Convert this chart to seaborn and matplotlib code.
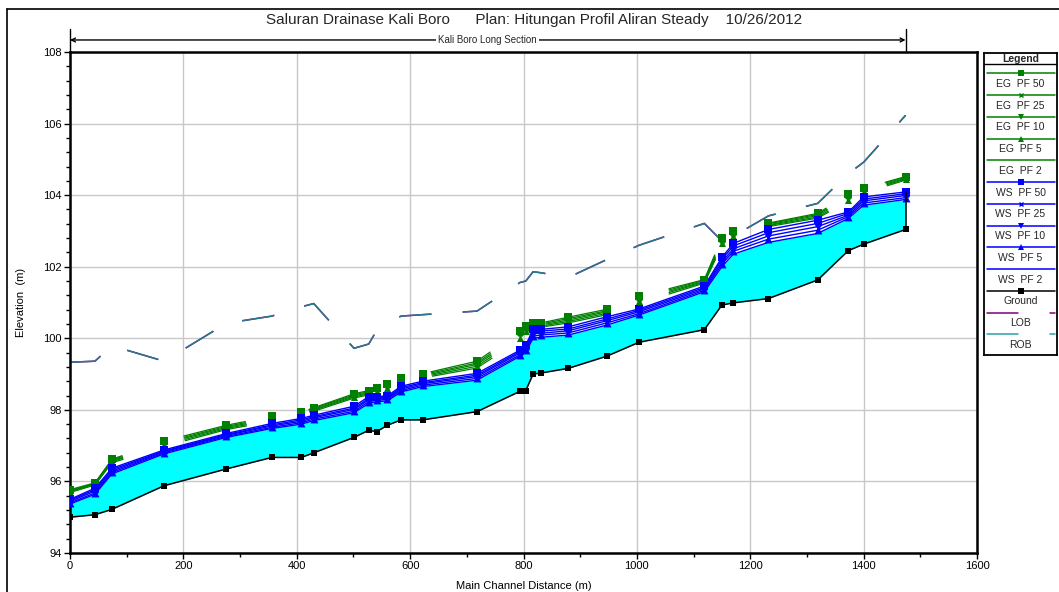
import matplotlib
matplotlib.use("Agg")
import matplotlib.pyplot as plt
import matplotlib.transforms as mtransforms
from matplotlib.lines import Line2D
from matplotlib.ticker import MultipleLocator
import pandas as pd
import seaborn as sns

# ---------------- data ----------------
station = [0, 44, 74, 166, 276, 356, 408, 430, 501, 527, 541, 560, 584, 622, 718,
           794, 804, 817, 831, 879, 947, 1004, 1119, 1150, 1170, 1232, 1319, 1373, 1400, 1474]

ground = [95.00, 95.07, 95.22, 95.88, 96.35, 96.67, 96.67, 96.80, 97.23, 97.43, 97.39, 97.57,
          97.72, 97.72, 97.95, 98.52, 98.54, 99.00, 99.03, 99.16, 99.50, 99.89, 100.24, 100.93,
          100.99, 101.11, 101.63, 102.45, 102.63, 103.04]

ws_pf50 = [95.50, 95.81, 96.37, 96.88, 97.34, 97.62, 97.76, 97.85, 98.10, 98.37, 98.37, 98.39,
           98.66, 98.80, 99.02, 99.67, 99.81, 100.25, 100.25, 100.32, 100.60, 100.82, 101.46,
           102.26, 102.65, 103.04, 103.30, 103.53, 103.95, 104.09]
ws_pf25 = [95.47, 95.77, 96.33, 96.85, 97.31, 97.58, 97.72, 97.81, 98.05, 98.32, 98.33, 98.35,
           98.62, 98.76, 98.97, 99.63, 99.76, 100.19, 100.20, 100.26, 100.54, 100.78, 101.42,
           102.20, 102.58, 102.95, 103.21, 103.49, 103.89, 104.04]
ws_pf10 = [95.44, 95.73, 96.29, 96.83, 97.29, 97.55, 97.68, 97.78, 98.01, 98.28, 98.30, 98.32,
           98.58, 98.73, 98.93, 99.59, 99.72, 100.13, 100.14, 100.21, 100.49, 100.74, 101.38,
           102.13, 102.50, 102.86, 103.12, 103.44, 103.84, 103.99]
ws_pf5 = [95.40, 95.68, 96.25, 96.80, 97.26, 97.51, 97.64, 97.74, 97.96, 98.23, 98.27, 98.29,
          98.54, 98.69, 98.88, 99.54, 99.67, 100.06, 100.09, 100.15, 100.43, 100.69, 101.34,
          102.07, 102.43, 102.77, 103.02, 103.40, 103.78, 103.93]
ws_pf2 = [95.37, 95.64, 96.21, 96.77, 97.23, 97.48, 97.60, 97.70, 97.92, 98.18, 98.23, 98.25,
          98.50, 98.65, 98.83, 99.50, 99.62, 100.00, 100.03, 100.09, 100.37, 100.65, 101.30,
          102.00, 102.35, 102.68, 102.93, 103.35, 103.72, 103.88]

eg_pf50 = [95.77, 95.96, 96.62, 97.13, 97.57, 97.82, 97.94, 98.06, 98.45, 98.54, 98.60, 98.73,
           98.89, 99.01, 99.36, 100.20, 100.34, 100.43, 100.43, 100.59, 100.81, 101.17, 101.64,
           102.81, 102.99, 103.22, 103.49, 104.02, 104.19, 104.52]
eg_pf25 = [95.75, 95.95, 96.60, 97.09, 97.54, 97.78, 97.92, 98.04, 98.42, 98.51, 98.57, 98.69,
           98.86, 98.98, 99.31, 100.14, 100.29, 100.41, 100.40, 100.55, 100.77, 101.12, 101.62,
           102.76, 102.94, 103.20, 103.46, 103.97, 104.16, 104.50]
eg_pf10 = [95.73, 95.93, 96.57, 97.06, 97.51, 97.75, 97.90, 98.01, 98.39, 98.48, 98.54, 98.65,
           98.82, 98.95, 99.27, 100.08, 100.25, 100.38, 100.37, 100.51, 100.74, 101.08, 101.59,
           102.70, 102.90, 103.17, 103.43, 103.92, 104.13, 104.47]
eg_pf5 = [95.71, 95.92, 96.55, 97.02, 97.48, 97.72, 97.88, 97.99, 98.36, 98.45, 98.50, 98.60,
          98.79, 98.92, 99.22, 100.02, 100.20, 100.36, 100.34, 100.47, 100.70, 101.03, 101.57,
          102.65, 102.85, 103.15, 103.39, 103.87, 104.09, 104.45]
eg_pf2 = [95.69, 95.90, 96.52, 96.98, 97.45, 97.68, 97.86, 97.96, 98.33, 98.42, 98.47, 98.56,
          98.75, 98.89, 99.17, 99.96, 100.15, 100.33, 100.31, 100.43, 100.66, 100.98, 101.54,
          102.59, 102.80, 103.12, 103.36, 103.82, 104.06, 104.42]

rob = [99.33, 99.36, 99.79, 99.36, 100.42, 100.62, 100.88, 100.97, 99.72, 99.84, 100.22, 100.42,
       100.62, 100.66, 100.76, 101.56, 101.60, 101.86, 101.83, 101.70, 102.20, 102.60, 103.21,
       102.72, 102.85, 103.42, 103.77, 104.60, 104.92, 106.23]
lob = [99.33, 99.36, 99.79, 99.36, 100.42, 100.62, 100.88, 100.97, 99.72, 99.84, 100.22, 100.42,
       100.62, 100.66, 100.76, 101.56, 101.60, 101.86, 101.83, 101.70, 102.20, 102.60, 103.21,
       102.72, 102.85, 103.42, 103.77, 104.60, 104.92, 106.23]

title = "Saluran Drainase Kali Boro      Plan: Hitungan Profil Aliran Steady    10/26/2012"
section_label = "Kali Boro Long Section"
x_label = "Main Channel Distance (m)"
y_label = "Elevation  (m)"
x_ticks = [0, 200, 400, 600, 800, 1000, 1200, 1400, 1600]
y_ticks = [94, 96, 98, 100, 102, 104, 106, 108]

ws_series = [("WS  PF 50", ws_pf50, "s"), ("WS  PF 25", ws_pf25, "x"), ("WS  PF 10", ws_pf10, "v"),
             ("WS  PF 5", ws_pf5, "^"), ("WS  PF 2", ws_pf2, None)]
eg_series = [("EG  PF 50", eg_pf50, "s"), ("EG  PF 25", eg_pf25, "x"), ("EG  PF 10", eg_pf10, "v"),
             ("EG  PF 5", eg_pf5, "^"), ("EG  PF 2", eg_pf2, None)]

# ---------------- style ----------------
sns.set_theme(style="white")
plt.rcParams['font.family'] = ['Liberation Sans Narrow', 'Liberation Sans', 'DejaVu Sans']
plt.rcParams['lines.scale_dashes'] = False

GREEN = "#008000"
BLUE = "#0000ff"
TEAL = "#257a8c"
PURPLE = "#800080"
CYAN = "#00ffff"

W, H = 1059, 592
fig = plt.figure(figsize=(W / 100, H / 100), dpi=100)
fig.patch.set_facecolor("white")
ax = fig.add_axes([70 / W, 1 - 553 / H, 907 / W, 501 / H])

df = pd.DataFrame({"station": station, "ground": ground, "rob": rob, "lob": lob})

# water fill
ax.fill_between(station, ground, ws_pf2, color=CYAN, lw=0, zorder=1)

# EG lines (dashed appearance)
for name, vals, mk in eg_series:
    sns.lineplot(x=station, y=vals, ax=ax, estimator=None, sort=False, color=GREEN,
                 lw=0.9, linestyle=(90.7, (46.1, 46.1)), zorder=2)
# WS lines
for name, vals, mk in ws_series:
    sns.lineplot(x=station, y=vals, ax=ax, estimator=None, sort=False, color=BLUE,
                 lw=1.0, zorder=3)
# markers
for name, vals, mk in eg_series:
    if mk is None:
        continue
    if mk == "x":
        sns.scatterplot(x=station, y=vals, ax=ax, marker="x", s=14, color=GREEN, linewidth=1.4, zorder=4)
    else:
        sns.scatterplot(x=station, y=vals, ax=ax, marker=mk, s=26, color=GREEN, linewidth=0, zorder=4)
for name, vals, mk in ws_series:
    if mk is None:
        continue
    if mk == "x":
        sns.scatterplot(x=station, y=vals, ax=ax, marker="x", s=16, color=BLUE, linewidth=1.4, zorder=4)
    else:
        sns.scatterplot(x=station, y=vals, ax=ax, marker=mk, s=32, color=BLUE, linewidth=0, zorder=4)

# bank lines
sns.lineplot(data=df, x="station", y="lob", ax=ax, estimator=None, sort=False, color=PURPLE,
             lw=1.1, linestyle=(0, (23.4, 22.5)), zorder=2)
sns.lineplot(data=df, x="station", y="rob", ax=ax, estimator=None, sort=False, color=TEAL,
             lw=1.1, linestyle=(0, (23.4, 22.5)), zorder=2.1)

# ground
sns.lineplot(data=df, x="station", y="ground", ax=ax, estimator=None, sort=False, color="black",
             lw=1.1, marker="s", markersize=5, markeredgewidth=0, zorder=5)
ax.plot([station[-1], station[-1]], [ground[-1], ws_pf50[-1]], color="black", lw=1.1, zorder=5)

# axes styling
ax.set_xlim(0, 1600)
ax.set_ylim(94, 108)
ax.set_xticks(x_ticks)
ax.set_yticks(y_ticks)
ax.xaxis.set_minor_locator(MultipleLocator(100))
ax.yaxis.set_minor_locator(MultipleLocator(0.4))
ax.grid(True, which="major", color="#c8c8c8", lw=1)
ax.set_axisbelow(True)
ax.tick_params(which="both", direction="out", bottom=True, left=True, colors="black",
               labelsize=8, pad=2)
ax.tick_params(which="major", length=4, width=1)
ax.tick_params(which="minor", length=3, width=1)
for sp in ax.spines.values():
    sp.set_linewidth(1.8)
    sp.set_color("black")
ax.set_xlabel(x_label, fontsize=8, labelpad=7, color="black")
ax.set_ylabel(y_label, fontsize=8, labelpad=12, color="black")

# long-section arrow
trans = mtransforms.blended_transform_factory(ax.transData, ax.transAxes)
ax.annotate("", xy=(station[0], 1.024), xytext=(station[-1], 1.024), xycoords=trans,
            textcoords=trans, arrowprops=dict(arrowstyle="<->", lw=1, color="black",
                                              shrinkA=0, shrinkB=0, mutation_scale=7),
            annotation_clip=False)
for xs in (station[0], station[-1]):
    ax.plot([xs, xs], [1.0, 1.046], transform=trans, color="black", lw=1, clip_on=False)
ax.text((station[0] + station[-1]) / 2, 1.024, section_label, transform=trans, ha="center",
        va="center", fontsize=7, bbox=dict(facecolor="white", edgecolor="none", pad=1.5))

# title
fig.text(534 / W, 1 - 20 / H, title, ha="center", va="center", fontsize=11)

# outer frame
fig.add_artist(Line2D([7 / W, 7 / W], [1 - 9 / H, 0], color="black", lw=1.2, transform=fig.transFigure))
fig.add_artist(Line2D([7 / W, 1], [1 - 9 / H, 1 - 9 / H], color="black", lw=1.2, transform=fig.transFigure))

# legend panel
lax = fig.add_axes([984 / W, 1 - 355 / H, 73 / W, 302 / H])
lax.set_xlim(984, 1057)
lax.set_ylim(355, 53)
lax.set_xticks([])
lax.set_yticks([])
for sp in lax.spines.values():
    sp.set_linewidth(1.3)
    sp.set_color("black")
lax.text(1020.5, 58.5, "Legend", ha="center", va="center", fontsize=7.5, fontweight="bold")
lax.plot([984, 1057], [64, 64], color="black", lw=1)
entries = ([(n, GREEN, m) for n, v, m in eg_series] + [(n, BLUE, m) for n, v, m in ws_series]
           + [("Ground", "black", "s"), ("LOB", PURPLE, "bank"), ("ROB", "#2aa0a8", "bank")])
for k, (name, col, mk) in enumerate(entries):
    yl = 73.3 + 21.75 * k
    if mk == "bank":
        lax.plot([987, 1018], [yl, yl], color=col, lw=1.1)
        lax.plot([1050, 1055], [yl, yl], color=col, lw=1.1)
    else:
        lax.plot([987, 1055], [yl, yl], color=col, lw=1.1)
        if mk is not None:
            lax.plot([1020.5], [yl], marker=mk, color=col, markersize=4 if mk != "x" else 3.5,
                     markeredgewidth=1 if mk == "x" else 0)
    lax.text(1020.5, yl + 10.5, name, ha="center", va="center", fontsize=7.5)

fig.savefig("out.png", dpi=100, facecolor="white")
